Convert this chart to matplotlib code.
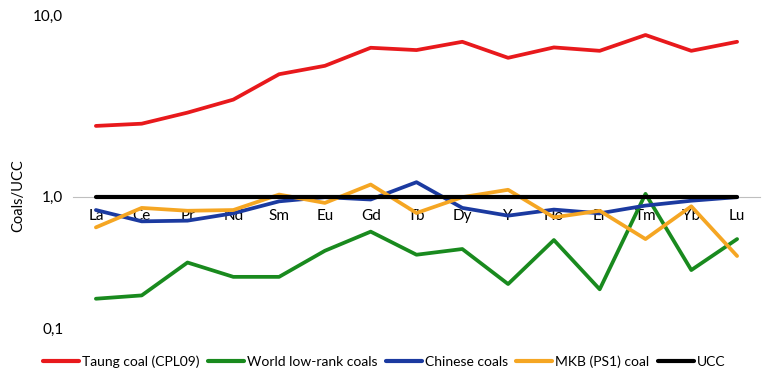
import numpy as np
import matplotlib
matplotlib.use("Agg")
import matplotlib.pyplot as plt

plt.rcParams['font.family'] = ['Lato', 'DejaVu Sans']

elements = ["La", "Ce", "Pr", "Nd", "Sm", "Eu", "Gd", "Tb", "Dy", "Y", "Ho", "Er", "Tm", "Yb", "Lu"]
taung = [2.45, 2.52, 2.90, 3.42, 4.72, 5.25, 6.60, 6.41, 7.12, 5.81, 6.63, 6.35, 7.76, 6.35, 7.12]
world = [0.167, 0.177, 0.315, 0.245, 0.245, 0.387, 0.541, 0.361, 0.399, 0.216, 0.467, 0.197, 1.035, 0.276, 0.475]
chinese = [0.79, 0.648, 0.656, 0.746, 0.92, 0.99, 0.95, 1.20, 0.82, 0.716, 0.796, 0.746, 0.854, 0.93, 0.99]
mkb = [0.583, 0.82, 0.78, 0.79, 1.026, 0.895, 1.165, 0.75, 0.99, 1.09, 0.695, 0.78, 0.475, 0.843, 0.353]
ucc = [1.0] * 15

series = [
    ("Taung coal (CPL09)", taung, "#e8191c"),
    ("World low-rank coals", world, "#198a1e"),
    ("Chinese coals", chinese, "#1b3aa0"),
    ("MKB (PS1) coal", mkb, "#f5a623"),
    ("UCC", ucc, "#000000"),
]

ratio = 131.0 / 181.0

def fwd(y):
    y = np.clip(np.asarray(y, dtype=float), 1e-12, None)
    l = np.log10(y)
    return np.where(l >= 0, l, l * ratio)

def inv(x):
    x = np.asarray(x, dtype=float)
    return np.where(x >= 0, 10 ** x, 10 ** (x / ratio))

fig = plt.figure(figsize=(7.68, 3.8), dpi=100)
ax = fig.add_axes([73 / 768, 1 - 328 / 380, (760 - 73) / 768, (328 - 15) / 380])

x = np.arange(len(elements))
for name, vals, col in series:
    lw = 3.0 if name == "UCC" else 2.7
    ax.plot(x, vals, color=col, lw=lw, label=name, solid_capstyle='round')

ax.set_yscale('function', functions=(fwd, inv))
ax.set_ylim(0.1, 10)
ax.set_xlim(-0.5, len(elements) - 0.5)
ax.set_yticks([0.1, 1, 10])
ax.set_yticklabels(["0,1", "1,0", "10,0"])
ax.yaxis.set_minor_locator(matplotlib.ticker.NullLocator())
ax.set_xticks(x)
ax.set_xticklabels(elements)

for s in ["top", "right", "left"]:
    ax.spines[s].set_visible(False)
ax.spines["bottom"].set_position(("data", 1))
ax.spines["bottom"].set_color("#bfbfbf")
ax.spines["bottom"].set_linewidth(0.8)
ax.spines["bottom"].set_zorder(0)
ax.tick_params(axis="x", length=0, pad=9, labelsize=11, colors="#000000")
ax.tick_params(axis="y", length=0, pad=7, labelsize=11)

fig.text(18 / 768, 1 - 196 / 380, "Coals/UCC", rotation=90, va="center", ha="center", fontsize=10.5)

leg = fig.legend(loc="center", bbox_to_anchor=(0.5, 1 - 362 / 380), ncol=5, frameon=False,
                 fontsize=10, handlelength=2.6, handletextpad=0.2, columnspacing=0.62)
for ln in leg.get_lines():
    ln.set_linewidth(3.0)

fig.savefig("out.png", dpi=100)
